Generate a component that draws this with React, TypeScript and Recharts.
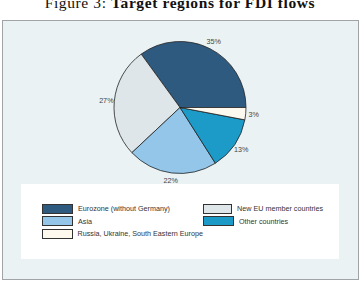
import React from "react";
import { PieChart, Pie, Cell, Legend } from "recharts";

const regions = [
  "Eurozone (without Germany)",
  "New EU member countries",
  "Asia",
  "Other countries",
  "Russia, Ukraine, South Eastern Europe",
];
const shares = [35, 27, 22, 13, 3];
const sliceColors = ["#2f5a80", "#dee6ea", "#93c6e8", "#1c9ac8", "#fdf9ee"];

const data = regions.map((name, i) => ({ name, value: shares[i] }));

const RAD = Math.PI / 180;

const renderLabel = (props: any) => {
  const { cx, cy, midAngle, outerRadius, value } = props;
  const r = outerRadius + 8;
  const x = cx + r * Math.cos(-midAngle * RAD);
  const y = cy + r * Math.sin(-midAngle * RAD);
  return (
    <text
      x={x}
      y={y}
      textAnchor="middle"
      dominantBaseline="central"
      fontSize={7.2}
      fontFamily="'Liberation Sans', Arial, sans-serif"
      fill="#444"
    >
      {value}%
    </text>
  );
};

const LegendBox = () => (
  <div
    style={{
      display: "grid",
      gridTemplateColumns: "161px 120px",
      rowGap: 3.5,
      fontFamily: "'Liberation Sans', Arial, sans-serif",
      fontSize: 7.2,
      color: "#333",
    }}
  >
    {data.map((d, i) => (
      <div key={d.name} style={{ display: "flex", alignItems: "center", height: 9, color: "#333" }}>
        <span
          style={{
            display: "inline-block",
            width: 29,
            height: 8,
            background: sliceColors[i],
            border: "0.8px solid #333",
            marginRight: 5,
          }}
        />
        <span style={{ whiteSpace: "nowrap", color: "#333" }}>{d.name}</span>
      </div>
    ))}
  </div>
);

export default function App() {
  return (
    <div style={{ position: "absolute", left: 0, top: 0, width: 360, height: 281, background: "#fff", overflow: "hidden" }}>
      <div
        style={{
          position: "absolute",
          top: -5,
          left: 0,
          width: 360,
          textAlign: "center",
          fontFamily: "'Liberation Serif', 'Times New Roman', serif",
          fontSize: 15.5,
          letterSpacing: 0.6,
          lineHeight: "16px",
          color: "#111",
        }}
      >
        Figure 3: <b>Target regions for FDI flows</b>
      </div>
      <div
        style={{
          position: "absolute",
          left: 2,
          top: 20,
          width: 355,
          height: 258,
          background: "#eaf2f3",
          border: "1px solid #a0a4a6",
        }}
      />
      <div
        style={{
          position: "absolute",
          left: 21,
          top: 184,
          width: 318,
          height: 75,
          background: "#ffffff",
        }}
      />
      <div style={{ position: "absolute", left: 0, top: 0 }}>
        <PieChart width={360} height={281} margin={{ top: 0, right: 0, bottom: 0, left: 0 }}>
          <Pie
            data={data}
            dataKey="value"
            nameKey="name"
            cx={180}
            cy={107.5}
            outerRadius={66}
            startAngle={0}
            endAngle={360}
            stroke="#222"
            strokeWidth={0.8}
            label={renderLabel}
            labelLine={false}
            isAnimationActive={false}
          >
            {data.map((d, i) => (
              <Cell key={d.name} fill={sliceColors[i]} />
            ))}
          </Pie>
          <Legend
            content={() => <LegendBox />}
            wrapperStyle={{ position: "absolute", left: 42, top: 204, width: 300 }}
          />
        </PieChart>
      </div>
    </div>
  );
}
